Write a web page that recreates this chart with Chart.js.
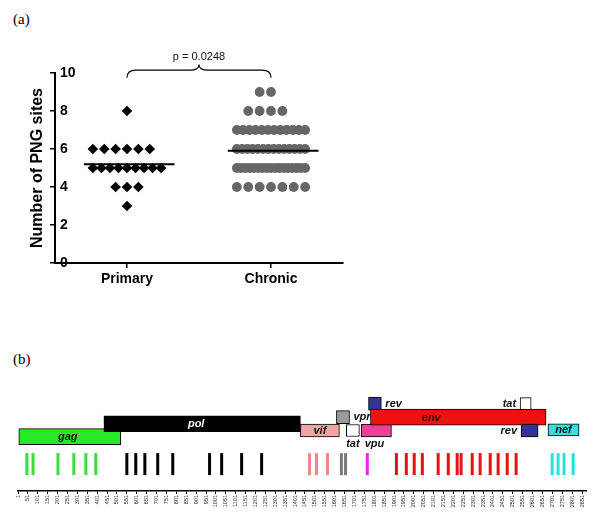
<!DOCTYPE html>
<html>
<head>
<meta charset="utf-8">
<title>PNG sites</title>
<script src="https://cdn.jsdelivr.net/npm/chart.js@4.4.1/dist/chart.umd.min.js"></script>
<style>
  html, body { margin: 0; padding: 0; background: #fff; }
  body { width: 600px; height: 527px; position: relative; overflow: hidden; }
  .tag { position: absolute; left: 13px; font: 15px "Liberation Serif", "Times New Roman", serif; line-height: 15px; color: #000; }
  #chartA { position: absolute; left: 0; top: 0; }
  #chartB { position: absolute; left: 0; top: 380px; }
</style>
</head>
<body>
<div class="tag" style="top:12px">(a)</div>
<div class="tag" style="top:352px">(b)</div>
<canvas id="chartA" width="360" height="300"></canvas>
<canvas id="chartB" width="600" height="147"></canvas>
<script>
// panel (a): number of PNG sites per sequence
const groups = ['Primary', 'Chronic'];
const primarySites = [8, 6, 6, 6, 6, 6, 6, 5, 5, 5, 5, 5, 5, 5, 5, 5, 4, 4, 4, 3];
const chronicSites = [
  9, 9,
  8, 8, 8, 8,
  7, 7, 7, 7, 7, 7, 7, 7, 7, 7, 7, 7,
  6, 6, 6, 6, 6, 6, 6, 6, 6, 6, 6, 6, 6, 6,
  5, 5, 5, 5, 5, 5, 5, 5, 5, 5, 5, 5, 5, 5, 5, 5, 5,
  4, 4, 4, 4, 4, 4, 4
];
const pValueText = 'p = 0.0248';

// panel (b): genome map and PNG site positions
const genes     = ['gag', 'pol', 'vif', 'vpr', 'tat', 'vpu', 'rev', 'env', 'tat', 'rev', 'nef'];
const geneStart = [5, 435, 1428, 1610, 1660, 1736, 1772, 1782, 2538, 2543, 2679];
const geneEnd   = [520, 1428, 1625, 1676, 1726, 1888, 1837, 2669, 2594, 2629, 2836];
const pngSites  = [46, 77, 203, 283, 344, 394,
  551, 596, 642, 707, 783, 969, 1030, 1131, 1232,
  1474, 1509, 1565,
  1635, 1656,
  1766,
  1913, 1963, 2003, 2044, 2124, 2175, 2220, 2240, 2296, 2336, 2387, 2427, 2473, 2518,
  2700, 2730, 2760, 2806];
const pngGene = ['gag', 'gag', 'gag', 'gag', 'gag', 'gag',
  'pol', 'pol', 'pol', 'pol', 'pol', 'pol', 'pol', 'pol', 'pol',
  'vif', 'vif', 'vif',
  'vpr', 'vpr',
  'vpu',
  'env', 'env', 'env', 'env', 'env', 'env', 'env', 'env', 'env', 'env', 'env', 'env', 'env', 'env',
  'nef', 'nef', 'nef', 'nef'];
const axisTicks = Array.from({ length: 58 }, (_, i) => 1 + i * 50);

// layout / style of the genome map
const geneTrack = [8.1, 10, 9, 11, 9, 9, 13, 11, 13, 9, 9.1];
const geneThick = [16, 16, 13, 13, 12, 13, 13, 16, 12, 13, 12];
const geneFill  = ['#25ea25', '#000000', '#f4a3a3', '#9a9a9a', '#ffffff', '#ee3f9a', '#333399', '#ee1111', '#ffffff', '#333399', '#38dede'];
const geneLabelAt = ['in', 'in', 'in', 'right', 'below', 'below', 'right', 'in', 'left', 'left', 'in'];
const geneLabelDx = [-2, -6, 0, 0, 0, -2, 0, -27, 0, 0, 0];
const geneLabelColor = ['#111', '#fff', '#111', '#111', '#111', '#111', '#111', '#400', '#111', '#111', '#111'];
const markColor = { gag: '#3ade3a', pol: '#000', vif: '#f08686', vpr: '#7a7a7a', vpu: '#ee22ee', env: '#e41212', nef: '#2adede' };
const MARK_TRACK = 4;

const font = '"Liberation Sans", Arial, Helvetica, sans-serif';
Chart.defaults.font.family = font;
Chart.defaults.color = '#000';

// spread equal values side by side, like a column scatter
const SLOT = 0.079;
function spreadDots(values, center) {
  const rows = {};
  values.forEach(v => { (rows[v] = rows[v] || []).push(v); });
  const pts = [];
  Object.values(rows).forEach(row => {
    const n = row.length;
    if (n > 7) {
      // crowded row: squeeze into a fixed width
      const step = SLOT * 6 / (n - 1);
      row.forEach((v, i) => pts.push({ x: center - 3 * SLOT + i * step, y: v }));
    } else {
      row.forEach((v, i) => pts.push({ x: center + (i - Math.floor(n / 2)) * SLOT, y: v }));
    }
  });
  return pts;
}

function meanLine(values, center) {
  const m = values.reduce((a, b) => a + b, 0) / values.length;
  return [{ x: center - 0.3, y: m }, { x: center + 0.33, y: m }];
}

// brace + p value between the two groups
const braceLabel = {
  id: 'braceLabel',
  afterDraw(chart) {
    const { ctx, scales: { x, y } } = chart;
    const x1 = x.getPixelForValue(1), x2 = x.getPixelForValue(2), xm = (x1 + x2) / 2;
    const yEnd = y.getPixelForValue(9.75), yTop = y.getPixelForValue(10.15), yPk = y.getPixelForValue(10.45);
    const r = 9;
    ctx.save();
    ctx.strokeStyle = '#000';
    ctx.lineWidth = 1.2;
    ctx.beginPath();
    ctx.moveTo(x1, yEnd);
    ctx.quadraticCurveTo(x1, yTop, x1 + r, yTop);
    ctx.lineTo(xm - r, yTop);
    ctx.quadraticCurveTo(xm, yTop, xm, yPk);
    ctx.quadraticCurveTo(xm, yTop, xm + r, yTop);
    ctx.lineTo(x2 - r, yTop);
    ctx.quadraticCurveTo(x2, yTop, x2, yEnd);
    ctx.stroke();
    ctx.fillStyle = '#111';
    ctx.font = '11px ' + font;
    ctx.textAlign = 'center';
    ctx.textBaseline = 'middle';
    ctx.fillText(pValueText, xm, yPk - 7);
    ctx.restore();
  }
};

new Chart(document.getElementById('chartA'), {
  type: 'scatter',
  data: {
    datasets: [
      { type: 'line', data: meanLine(primarySites, 1), borderColor: '#000', borderWidth: 2, pointRadius: 0 },
      { type: 'line', data: meanLine(chronicSites, 2), borderColor: '#000', borderWidth: 2, pointRadius: 0 },
      { data: spreadDots(primarySites, 1), pointStyle: 'rectRot', pointRadius: 5.3, pointBackgroundColor: '#000', pointBorderWidth: 0 },
      { data: spreadDots(chronicSites, 2), pointStyle: 'circle', pointRadius: 4.9, pointBackgroundColor: '#666', pointBorderWidth: 0 }
    ]
  },
  options: {
    responsive: false,
    animation: false,
    layout: { padding: { top: 73, right: 17, left: 0, bottom: 0 } },
    plugins: { legend: { display: false }, tooltip: { enabled: false } },
    scales: {
      x: {
        type: 'linear', min: 0.5, max: 2.5,
        afterBuildTicks: s => { s.ticks = groups.map((g, i) => ({ value: i + 1 })); },
        afterFit: s => { s.height = 37; },
        ticks: { callback: (v, i) => groups[i], font: { size: 14, weight: 'bold' }, color: '#000', padding: 3, maxRotation: 0, autoSkip: false },
        grid: { drawOnChartArea: false, tickLength: 5, color: '#000', lineWidth: 1.5 },
        border: { color: '#000', width: 2 }
      },
      y: {
        min: 0, max: 10,
        afterFit: s => { s.width = 55; },
        ticks: { stepSize: 2, mirror: true, padding: 5, font: { size: 14, weight: 'bold' }, color: '#000' },
        grid: { drawOnChartArea: false, tickLength: 5, color: '#000', lineWidth: 1.5 },
        border: { color: '#000', width: 2 },
        title: { display: true, text: 'Number of PNG sites', color: '#000', font: { size: 16, weight: 'bold', lineHeight: 1.2 }, padding: { top: 28, bottom: 0 } }
      }
    }
  },
  plugins: [braceLabel]
});

// gene names inside or beside the boxes
const geneLabels = {
  id: 'geneLabels',
  afterDatasetsDraw(chart) {
    const ctx = chart.ctx;
    ctx.save();
    ctx.font = 'italic bold 11px ' + font;
    ctx.textBaseline = 'middle';
    genes.forEach((g, i) => {
      const bar = chart.getDatasetMeta(i).data[0];
      const left = Math.min(bar.x, bar.base), right = Math.max(bar.x, bar.base);
      const where = geneLabelAt[i];
      ctx.fillStyle = geneLabelColor[i];
      if (where === 'right') {
        ctx.textAlign = 'left';
        ctx.fillText(g, right + 4, bar.y);
      } else if (where === 'left') {
        ctx.textAlign = 'right';
        ctx.fillText(g, left - 4, bar.y);
      } else if (where === 'below') {
        ctx.textAlign = 'center';
        ctx.fillText(g, (left + right) / 2 + geneLabelDx[i], bar.y + bar.height / 2 + 7);
      } else {
        ctx.textAlign = 'center';
        ctx.fillText(g, (left + right) / 2 + geneLabelDx[i], bar.y + 0.5);
      }
    });
    ctx.restore();
  }
};

const genomeSets = genes.map((g, i) => ({
  type: 'bar',
  indexAxis: 'y',
  grouped: false,
  data: [{ x: [geneStart[i], geneEnd[i]], y: geneTrack[i] }],
  backgroundColor: geneFill[i],
  borderColor: '#000',
  borderWidth: 1,
  borderSkipped: false,
  barThickness: geneThick[i],
  order: genes.length - i
}));
genomeSets.push({
  type: 'scatter',
  indexAxis: 'x',
  data: pngSites.map(p => ({ x: p, y: MARK_TRACK })),
  pointStyle: 'line',
  pointRotation: 90,
  pointRadius: 11,
  pointBorderWidth: 3,
  pointBorderColor: pngGene.map(g => markColor[g]),
  pointBackgroundColor: pngGene.map(g => markColor[g]),
  order: 50
});

new Chart(document.getElementById('chartB'), {
  type: 'bar',
  data: { datasets: genomeSets },
  options: {
    responsive: false,
    animation: false,
    indexAxis: 'y',
    layout: { padding: { top: 10, left: 18, right: 13, bottom: 0 } },
    plugins: { legend: { display: false }, tooltip: { enabled: false } },
    scales: {
      x: {
        type: 'linear', position: 'bottom', min: 1, max: 2871,
        afterBuildTicks: s => { s.ticks = axisTicks.map(v => ({ value: v })); },
        afterFit: s => { s.height = 36; },
        ticks: { autoSkip: false, minRotation: 90, maxRotation: 90, callback: v => String(v), font: { size: 5.5 }, color: '#222', padding: 1 },
        grid: { drawOnChartArea: false, tickLength: 3, color: '#000', lineWidth: 1 },
        border: { color: '#000', width: 1.5 }
      },
      y: { type: 'linear', display: false, min: 0, max: 14.43, offset: false }
    }
  },
  plugins: [geneLabels]
});
</script>
</body>
</html>
